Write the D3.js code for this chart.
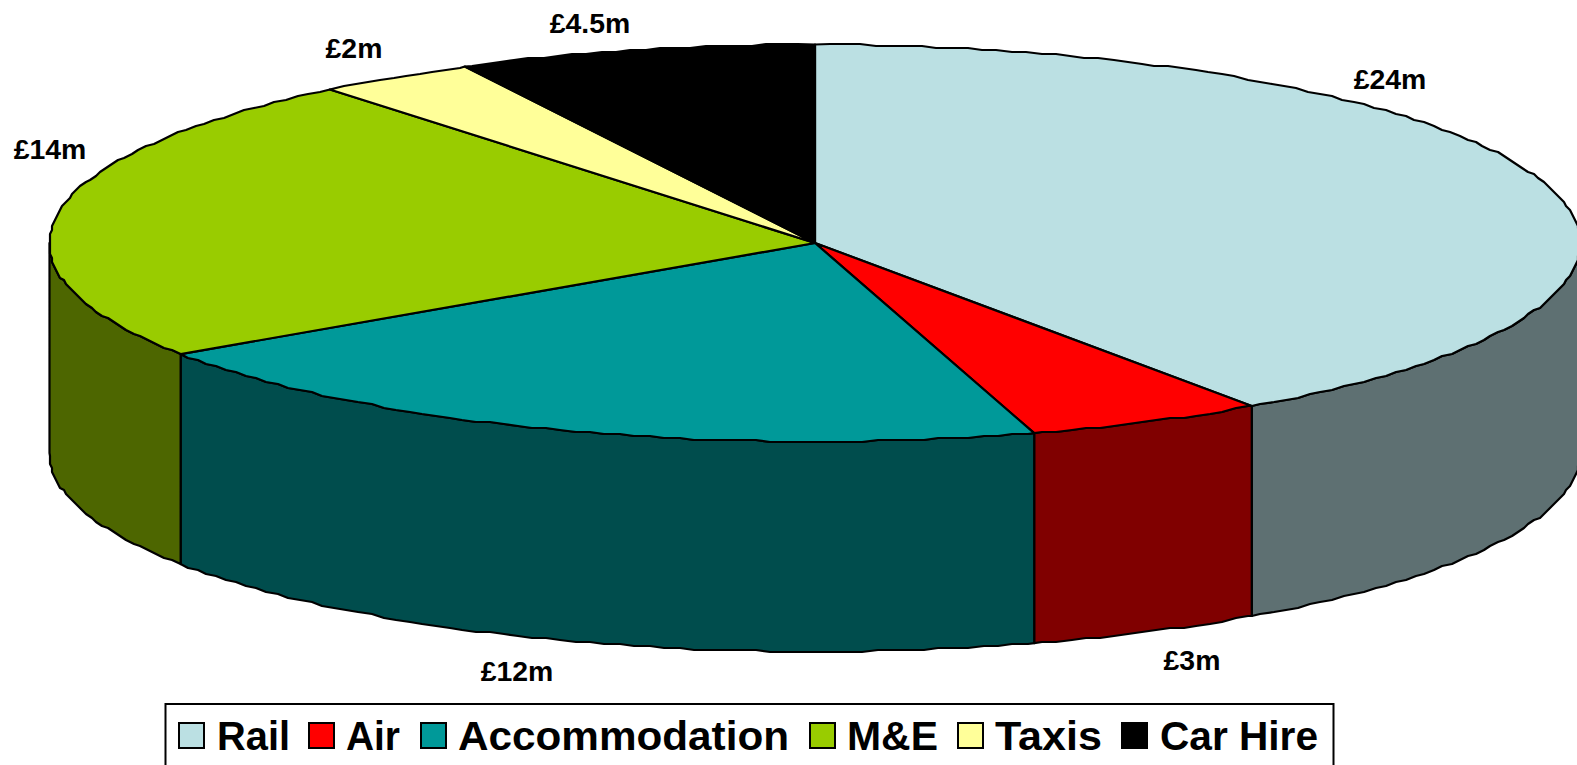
<!DOCTYPE html>
<html>
<head>
<meta charset="utf-8">
<script src="https://cdn.jsdelivr.net/npm/d3@7"></script>
<style>
html,body{margin:0;padding:0;background:#fff;overflow:hidden}
svg{display:block}
text{font-family:"Liberation Sans",Arial,sans-serif;font-weight:700;fill:#000}
</style>
</head>
<body>
<svg id="c" width="1577" height="765"></svg>
<script>
const categories = ["Rail","Air","Accommodation","M&E","Taxis","Car Hire"];
const values = [24,3,12,14,2,4.5];
const valueLabels = ["£24m","£3m","£12m","£14m","£2m","£4.5m"];
const topColors = ["#BBE0E3","#FF0000","#009999","#99CC00","#FFFF99","#000000"];
const sideColors = ["#5E7072","#800000","#004D4D","#4D6600","#808040","#000000"];

const W=1577,H=765,cx=815,cy=243,rx=765.5,ry=198.5,depth=210;
const labelAnchors = [[1390,89],[1192,670],[517,681],[50,159],[354,58],[590,33]];
const legendSwatchX = [179,309,421,810,958,1122];
const legendTextX = [217,346,458,847,995,1160];
const legendTextW = [73,54,331,91,107,158];

const svg=d3.select("#c");
const sx=d3.scaleLinear().domain([-1,1]).range([cx-rx,cx+rx]);
const sy=d3.scaleLinear().domain([-1,1]).range([cy-ry,cy+ry]);
const arcs=d3.pie().sort(null).value(d=>d)(values);

// The original's outline wobbles gently, from a coarse raster: sample sparsely and snap
const grid=2, step=0.02;
const snap=v=>Math.round(v/grid)*grid;
const pt=(a,dy=0)=>[sx(Math.sin(a)),sy(-Math.cos(a))+dy];
const rough=(a,dy=0)=>{const p=pt(a);return [snap(p[0]),snap(p[1])+dy];};
const line=d3.line();
function rim(a0,a1,dy=0){
  const dir=a1>a0?1:-1;
  const first=Math.ceil(Math.min(a0,a1)/step+0.2), last=Math.floor(Math.max(a0,a1)/step-0.2);
  const mids=d3.range(first,last+1).map(k=>k*step);
  if(dir<0) mids.reverse();
  return [pt(a0,dy)].concat(mids.map(a=>rough(a,dy)),[pt(a1,dy)]);
}

const style=s=>s.attr("stroke","#000").attr("stroke-width",2.2).attr("stroke-linejoin","round");

// side walls (front half only)
const gSide=svg.append("g");
arcs.forEach((d,i)=>{
  const a0=Math.max(d.startAngle,Math.PI/2), a1=Math.min(d.endAngle,3*Math.PI/2);
  if(a1<=a0) return;
  const upper=rim(a0,a1,0), lower=rim(a1,a0,depth);
  style(gSide.append("path")).attr("d",line(upper.concat(lower))+"Z").attr("fill",sideColors[i]);
});

// top slices
const gTop=svg.append("g");
arcs.forEach((d,i)=>{
  const pts=[[cx,cy]].concat(rim(d.startAngle,d.endAngle,0));
  style(gTop.append("path")).attr("d",line(pts)+"Z").attr("fill",topColors[i]);
});

// value labels
svg.append("g").selectAll("text").data(valueLabels).join("text")
  .attr("x",(d,i)=>labelAnchors[i][0]).attr("y",(d,i)=>labelAnchors[i][1])
  .attr("text-anchor","middle").attr("font-size",28.4).text(d=>d);

// legend
const lg=svg.append("g");
lg.append("rect").attr("x",165.5).attr("y",704).attr("width",1168).attr("height",80)
  .attr("fill","#fff").attr("stroke","#000").attr("stroke-width",2);
categories.forEach((c,i)=>{
  lg.append("rect").attr("x",legendSwatchX[i]).attr("y",723).attr("width",25).attr("height",25)
    .attr("fill",topColors[i]).attr("stroke","#000").attr("stroke-width",2);
  lg.append("text").attr("x",legendTextX[i]).attr("y",750).attr("font-size",40)
    .attr("textLength",legendTextW[i]).attr("lengthAdjust","spacingAndGlyphs").text(c);
});
</script>
</body>
</html>
